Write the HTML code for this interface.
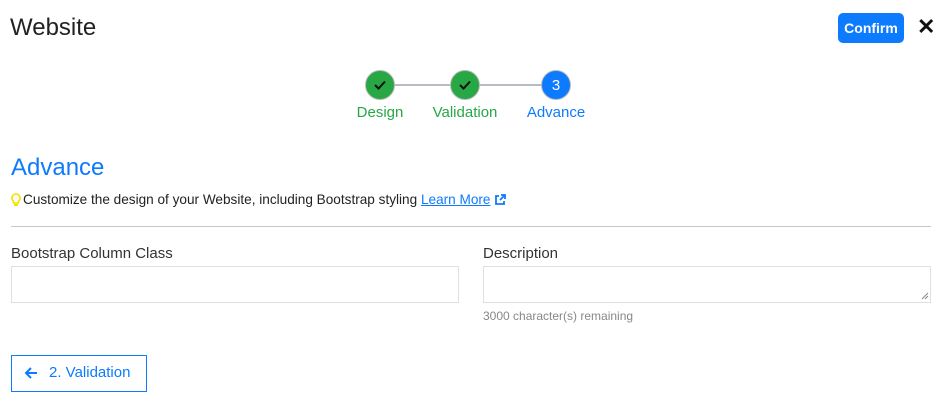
<!DOCTYPE html>
<html><head><style>
*{margin:0;padding:0;box-sizing:border-box}
body{width:942px;height:406px;background:#fff;font-family:"Liberation Sans",sans-serif;position:relative;overflow:hidden;color:#212529}
.a{position:absolute;white-space:nowrap}
.c{position:absolute;width:30px;height:30px;border-radius:50%;border:1px solid #bbb;display:flex;align-items:center;justify-content:center;color:#fff;font-size:15px}
.g{background:#28a745}.b{background:#0d7bff}
.box{position:absolute;border:1px solid #dcdfe3;background:#fff}
</style></head><body>
<div class="a" style="left:10px;top:14px;font-size:24px;color:#222">Website</div>
<div class="a" style="left:838px;top:13px;width:66px;height:30px;background:#0d7bff;border-radius:5px;color:#fff;font-size:14px;line-height:30px;text-align:center;font-weight:bold">Confirm</div>
<div class="a" style="left:917px;top:14px;font-size:22px;font-weight:bold;color:#111">✕</div>

<div class="a" style="left:380px;top:84px;width:176px;height:2px;background:#b8bcc2"></div>
<div class="c g" style="left:365px;top:70px"><svg width="14" height="12" viewBox="0 0 14 12"><path d="M2 6l3.5 3.5L12 2.5" stroke="#111" stroke-width="2" fill="none"/></svg></div>
<div class="c g" style="left:450px;top:70px"><svg width="14" height="12" viewBox="0 0 14 12"><path d="M2 6l3.5 3.5L12 2.5" stroke="#111" stroke-width="2" fill="none"/></svg></div>
<div class="c b" style="left:541px;top:70px">3</div>
<div class="a" style="left:340px;width:80px;text-align:center;top:104px;font-size:15px;color:#28a745">Design</div>
<div class="a" style="left:415px;width:100px;text-align:center;top:104px;font-size:15px;color:#28a745">Validation</div>
<div class="a" style="left:516px;width:80px;text-align:center;top:104px;font-size:15px;color:#0d7bff">Advance</div>

<div class="a" style="left:11px;top:154px;font-size:24px;color:#0d7bff">Advance</div>
<svg class="a" style="left:11px;top:193px" width="10" height="14" viewBox="0 0 10 14"><path d="M5 1a4 4 0 0 0-2.5 7.1V10h5V8.1A4 4 0 0 0 5 1z" fill="none" stroke="#f5e000" stroke-width="1.6"/><rect x="3" y="11" width="4" height="2" fill="#f5e000"/></svg>
<div class="a" style="left:23px;top:192px;font-size:13.6px;color:#222">Customize the design of your Website, including Bootstrap styling <span style="color:#0d7bff;text-decoration:underline">Learn More</span></div>
<svg class="a" style="left:494px;top:194px" width="12" height="12" viewBox="0 0 12 12"><path d="M5 2H2v8h8V7" fill="none" stroke="#0d7bff" stroke-width="1.8"/><path d="M6 6l5-5M7 1h4v4" fill="none" stroke="#0d7bff" stroke-width="1.8"/></svg>
<div class="a" style="left:11px;top:226px;width:920px;height:1px;background:#c8c8c8"></div>

<div class="a" style="left:11px;top:245px;font-size:15px;color:#333">Bootstrap Column Class</div>
<div class="box" style="left:11px;top:266px;width:448px;height:37px"></div>
<div class="a" style="left:483px;top:245px;font-size:15px;color:#333">Description</div>
<div class="box" style="left:483px;top:266px;width:448px;height:37px"></div>
<svg class="a" style="left:921px;top:292px" width="8" height="8" viewBox="0 0 8 8"><path d="M7 1L1 7M7 4L4 7" stroke="#888" stroke-width="1"/></svg>
<div class="a" style="left:483px;top:309px;font-size:12px;color:#888">3000 character(s) remaining</div>

<div class="a" style="left:11px;top:355px;width:136px;height:37px;border:1px solid #0d7bff"></div>
<svg class="a" style="left:24px;top:366px" width="14" height="14" viewBox="0 0 14 14"><path d="M13 7H2M7 2L2 7l5 5" fill="none" stroke="#0d7bff" stroke-width="2"/></svg>
<div class="a" style="left:49px;top:364px;font-size:15px;color:#0d7bff">2. Validation</div>
</body></html>
